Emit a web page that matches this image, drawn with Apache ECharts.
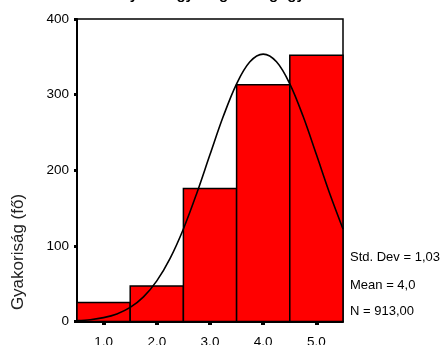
<!DOCTYPE html>
<html><head><meta charset="utf-8">
<script src="https://cdn.jsdelivr.net/npm/echarts@6/dist/echarts.min.js"></script>
<style>html,body{margin:0;padding:0;background:#fff;overflow:hidden}#c{width:447px;height:345px}</style>
</head><body><div id="c"></div>
<script>
const titleText = 'Vélemény a megyei egészségügyi ellátásról';
const binLow = [0.5, 1.5, 2.5, 3.5, 4.5];
const binHigh = [1.5, 2.5, 3.5, 4.5, 5.5];
const counts = [25, 47, 176, 313, 352];
const xTickValues = [1, 2, 3, 4, 5];
const curveX = [0.5,0.75,1,1.25,1.5,1.75,2,2.25,2.5,2.75,3,3.25,3.5,3.75,4,4.25,4.5,4.75,5,5.25,5.5];
const curveY = [1.1,2.4,5.1,10.0,18.6,32.5,53.7,83.5,122.4,169.3,220.7,271.3,314.3,343.4,353.6,343.4,314.3,271.3,220.7,169.3,122.4];
const statLabels = ['Std. Dev = 1,03', 'Mean = 4,0', 'N = 913,00'];
const yAxisTitle = 'Gyakoriság (fő)';

const FONT = '"Liberation Sans", Arial, sans-serif';
const chart = echarts.init(document.getElementById('c'), null, {renderer: 'canvas'});

const barData = counts.map((v, i) => [binLow[i], binHigh[i], v]);
const curveData = curveX.map((x, i) => [x, curveY[i]]);

chart.setOption({
  animation: false,
  backgroundColor: '#fff',
  title: {
    text: titleText, left: 'center', top: -18,
    textStyle: {fontFamily: FONT, fontSize: 15, fontWeight: 'bold', color: '#000'}
  },
  grid: {left: 77, right: 104, top: 19, bottom: 23.5, show: true, borderColor: '#000', borderWidth: 1.5, backgroundColor: 'transparent', outerBoundsMode: 'none', containLabel: false},
  xAxis: [{
    type: 'value', min: 0.5, max: 5.5,
    splitLine: {show: false},
    axisLine: {show: true, onZero: false, lineStyle: {color: '#000', width: 2}},
    axisTick: {show: false},
    axisLabel: {customValues: xTickValues, formatter: v => v.toFixed(1), color: '#000', fontFamily: FONT, fontSize: 13.5, margin: 14}
  }, {
    type: 'value', min: 0.5, max: 5.5, position: 'bottom', offset: 2,
    splitLine: {show: false},
    axisLine: {show: false},
    axisLabel: {show: false},
    axisTick: {show: true, customValues: xTickValues, length: 3.5, lineStyle: {color: '#000', width: 4}}
  }],
  yAxis: {
    type: 'value', min: 0, max: 400, interval: 100,
    splitLine: {show: false},
    axisLine: {show: true, lineStyle: {color: '#000', width: 2}},
    axisTick: {show: true, length: 3, lineStyle: {color: '#000', width: 3}},
    axisLabel: {color: '#000', fontFamily: FONT, fontSize: 13.5, margin: 8}
  },
  series: [{
    type: 'custom',
    data: barData,
    renderItem: (params, api) => {
      const p0 = api.coord([api.value(0), 0]);
      const p1 = api.coord([api.value(1), api.value(2)]);
      return {
        type: 'rect',
        shape: {x: p0[0], y: p1[1], width: p1[0] - p0[0], height: p0[1] - p1[1]},
        style: {fill: '#ff0000', stroke: '#000', lineWidth: 1.5}
      };
    },
    encode: {x: [0, 1], y: 2},
    z: 2
  }, {
    type: 'line',
    data: curveData,
    smooth: 0.35,
    symbol: 'none',
    lineStyle: {color: '#000', width: 1.6},
    z: 3
  }],
  graphic: [
    {type: 'text', x: 18, y: 252, rotation: Math.PI / 2,
     style: {text: yAxisTitle, fill: '#222', font: '17px ' + FONT, align: 'center', verticalAlign: 'middle'}},
    ...statLabels.map((t, i) => ({
      type: 'text', x: 350, y: [257, 285, 311][i],
      style: {text: t, fill: '#000', font: '13px ' + FONT, align: 'left', verticalAlign: 'middle'}
    }))
  ]
});
</script></body></html>
